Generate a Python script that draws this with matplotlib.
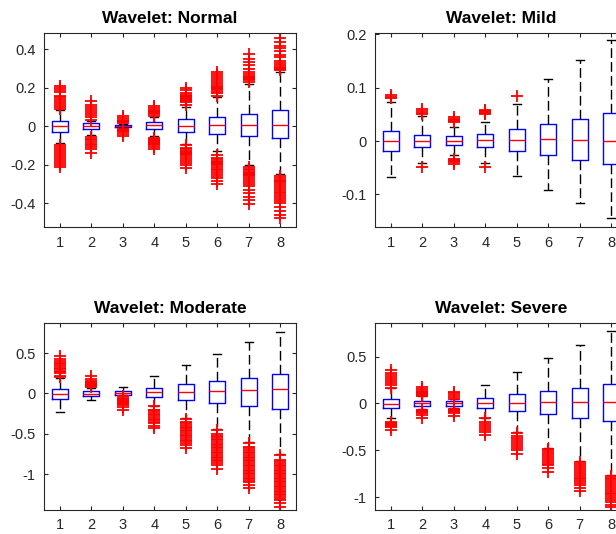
import matplotlib
matplotlib.use("Agg")
import matplotlib.pyplot as plt
from matplotlib.ticker import FuncFormatter

plt.rcParams['font.family'] = ['Liberation Sans', 'DejaVu Sans']
plt.rcParams['axes.unicode_minus'] = False

positions = [1, 2, 3, 4, 5, 6, 7, 8]

# ---- Wavelet: Normal ----
normal_med = [0.000, 0.000, 0.001, 0.004, 0.003, 0.005, 0.005, 0.007]
normal_q1 = [-0.030, -0.014, -0.005, -0.014, -0.028, -0.040, -0.050, -0.060]
normal_q3 = [0.028, 0.016, 0.007, 0.021, 0.038, 0.050, 0.066, 0.083]
normal_lo = [-0.085, -0.045, -0.008, -0.050, -0.090, -0.130, -0.200, -0.250]
normal_hi = [0.085, 0.030, 0.010, 0.049, 0.100, 0.150, 0.220, 0.285]
normal_fliers = [
    [0.09, 0.10, 0.11, 0.12, 0.13, 0.14, 0.15, 0.16, 0.18, 0.19, 0.20, 0.21,
     -0.10, -0.11, -0.12, -0.13, -0.14, -0.15, -0.16, -0.17, -0.18, -0.19, -0.20, -0.21],
    [0.035, 0.05, 0.06, 0.07, 0.08, 0.09, 0.10, 0.11, 0.13,
     -0.056, -0.065, -0.07, -0.08, -0.09, -0.10, -0.11, -0.12, -0.14],
    [0.015, 0.02, 0.025, 0.03, 0.035, 0.045, 0.055,
     -0.012, -0.018, -0.025, -0.03, -0.04, -0.05],
    [0.055, 0.065, 0.07, 0.075, 0.08, 0.085, 0.095, 0.105,
     -0.06, -0.065, -0.07, -0.075, -0.08, -0.085, -0.09, -0.10, -0.11, -0.12],
    [0.11, 0.125, 0.13, 0.135, 0.14, 0.145, 0.15, 0.155, 0.16, 0.165, 0.175, 0.19, 0.20,
     -0.10, -0.115, -0.12, -0.13, -0.135, -0.14, -0.145, -0.15, -0.16, -0.17, -0.18, -0.19, -0.20, -0.215],
    [0.16, 0.175, 0.18, 0.19, 0.195, 0.20, 0.205, 0.21, 0.22, 0.23, 0.24, 0.25, 0.26, 0.27, 0.285,
     -0.15, -0.165, -0.17, -0.18, -0.185, -0.19, -0.195, -0.20, -0.21, -0.22, -0.23, -0.24,
     -0.25, -0.26, -0.27, -0.285, -0.30],
    [0.23, 0.24, 0.245, 0.25, 0.255, 0.26, 0.27, 0.28, 0.30, 0.32, 0.335, 0.35, 0.375,
     -0.21, -0.225, -0.23, -0.24, -0.245, -0.25, -0.255, -0.26, -0.27, -0.28, -0.29, -0.30,
     -0.31, -0.33, -0.35, -0.37, -0.385, -0.405],
    [0.295, 0.30, 0.305, 0.31, 0.32, 0.33, 0.34, 0.36, 0.37, 0.39, 0.41, 0.42, 0.44, 0.46,
     -0.26, -0.27, -0.28, -0.285, -0.29, -0.30, -0.31, -0.32, -0.33, -0.34, -0.35, -0.36,
     -0.37, -0.38, -0.39, -0.40, -0.42, -0.44, -0.46, -0.48],
]

# ---- Wavelet: Mild ----
mild_med = [0.000, 0.001, 0.001, 0.0025, 0.0025, 0.004, 0.0025, 0.001]
mild_q1 = [-0.019, -0.011, -0.008, -0.011, -0.018, -0.026, -0.036, -0.043]
mild_q3 = [0.0195, 0.012, 0.010, 0.014, 0.022, 0.032, 0.042, 0.053]
mild_lo = [-0.067, -0.041, -0.026, -0.041, -0.066, -0.091, -0.116, -0.144]
mild_hi = [0.074, 0.047, 0.027, 0.036, 0.070, 0.117, 0.153, 0.189]
mild_fliers = [
    [0.080, 0.083, 0.086],
    [0.050, 0.053, 0.056, 0.060, -0.048],
    [0.035, 0.038, 0.040, 0.042, 0.045, -0.033, -0.036, -0.038, -0.040, -0.043],
    [0.050, 0.052, 0.054, 0.056, 0.058, -0.048],
    [0.084],
    [],
    [],
    [],
]

# ---- Wavelet: Moderate ----
moderate_med = [-0.010, -0.004, 0.004, 0.012, 0.020, 0.033, 0.041, 0.050]
moderate_q1 = [-0.074, -0.033, -0.020, -0.049, -0.086, -0.119, -0.156, -0.189]
moderate_q3 = [0.060, 0.025, 0.025, 0.062, 0.111, 0.152, 0.193, 0.239]
moderate_lo = [-0.23, -0.086, -0.025, -0.15, -0.30, -0.44, -0.60, -0.75]
moderate_hi = [0.19, 0.07, 0.08, 0.218, 0.354, 0.49, 0.63, 0.76]
moderate_fliers = [
    [0.20, 0.22, 0.25, 0.26, 0.28, 0.30, 0.32, 0.34, 0.36, 0.38, 0.40, 0.43, 0.46],
    [0.08, 0.09, 0.10, 0.11, 0.12, 0.13, 0.14, 0.15, 0.18, 0.21],
    [-0.035, -0.06, -0.07, -0.08, -0.09, -0.10, -0.11, -0.12, -0.13, -0.14, -0.17, -0.20],
    [-0.16, -0.20, -0.21, -0.23, -0.25, -0.27, -0.29, -0.31, -0.33, -0.35, -0.37, -0.40, -0.43],
    [-0.31, -0.35, -0.37, -0.39, -0.41, -0.43, -0.45, -0.47, -0.49, -0.51, -0.53, -0.55,
     -0.57, -0.59, -0.61, -0.64, -0.68],
    [-0.45, -0.50, -0.52, -0.54, -0.56, -0.58, -0.60, -0.62, -0.64, -0.66, -0.68, -0.70,
     -0.72, -0.74, -0.76, -0.78, -0.80, -0.82, -0.84, -0.86, -0.89, -0.93],
    [-0.61, -0.66, -0.68, -0.70, -0.72, -0.74, -0.76, -0.78, -0.80, -0.82, -0.84, -0.86,
     -0.88, -0.90, -0.92, -0.94, -0.96, -0.98, -1.00, -1.02, -1.04, -1.06, -1.08, -1.10,
     -1.13, -1.17],
    [-0.76, -0.82, -0.84, -0.86, -0.88, -0.90, -0.92, -0.94, -0.96, -0.98, -1.00, -1.02,
     -1.04, -1.06, -1.08, -1.10, -1.12, -1.14, -1.16, -1.18, -1.20, -1.22, -1.24, -1.26,
     -1.28, -1.30, -1.32, -1.35, -1.40],
]

# ---- Wavelet: Severe ----
severe_med = [-0.004, 0.000, 0.000, 0.007, 0.010, 0.014, 0.018, 0.021]
severe_q1 = [-0.053, -0.028, -0.025, -0.053, -0.082, -0.113, -0.152, -0.184]
severe_q3 = [0.053, 0.028, 0.025, 0.060, 0.100, 0.135, 0.170, 0.206]
severe_lo = [-0.15, -0.06, -0.05, -0.15, -0.30, -0.47, -0.61, -0.76]
severe_hi = [0.16, 0.078, 0.045, 0.20, 0.34, 0.486, 0.628, 0.77]
severe_fliers = [
    [0.17, 0.20, 0.22, 0.24, 0.26, 0.28, 0.30, 0.32, 0.36,
     -0.20, -0.21, -0.22, -0.23, -0.24, -0.25, -0.28],
    [0.085, 0.095, 0.10, 0.11, 0.12, 0.13, 0.15, 0.18,
     -0.065, -0.07, -0.08, -0.09, -0.10, -0.12, -0.15],
    [0.05, 0.07, 0.09, 0.11, 0.12, -0.06, -0.07, -0.08, -0.09, -0.10, -0.13],
    [-0.16, -0.20, -0.22, -0.24, -0.26, -0.28, -0.30, -0.34],
    [-0.31, -0.35, -0.37, -0.39, -0.41, -0.43, -0.45, -0.47, -0.50, -0.54],
    [-0.48, -0.50, -0.52, -0.54, -0.56, -0.58, -0.60, -0.62, -0.64, -0.66, -0.69, -0.73],
    [-0.62, -0.65, -0.67, -0.69, -0.71, -0.73, -0.75, -0.77, -0.79, -0.81, -0.83, -0.85,
     -0.87, -0.90, -0.93],
    [-0.77, -0.79, -0.81, -0.83, -0.85, -0.87, -0.89, -0.91, -0.93, -0.95, -0.97, -0.99,
     -1.01, -1.03, -1.05, -1.08, -1.10],
]

titles = ["Wavelet: Normal", "Wavelet: Mild", "Wavelet: Moderate", "Wavelet: Severe"]
ylims = [(-0.527, 0.485), (-0.162, 0.2025), (-1.44, 0.87), (-1.135, 0.857)]
yticks = [[-0.4, -0.2, 0, 0.2, 0.4], [-0.1, 0, 0.1, 0.2], [-1, -0.5, 0, 0.5], [-1, -0.5, 0, 0.5]]

panels = [
    (normal_med, normal_q1, normal_q3, normal_lo, normal_hi, normal_fliers),
    (mild_med, mild_q1, mild_q3, mild_lo, mild_hi, mild_fliers),
    (moderate_med, moderate_q1, moderate_q3, moderate_lo, moderate_hi, moderate_fliers),
    (severe_med, severe_q1, severe_q3, severe_lo, severe_hi, severe_fliers),
]

# axes rectangles in figure fractions (right column runs past the figure edge)
rects = [
    [0.0714, 0.574, 0.409, 0.364],
    [0.6088, 0.574, 0.409, 0.364],
    [0.0714, 0.045, 0.409, 0.350],
    [0.6088, 0.045, 0.409, 0.350],
]

axcol = '#262626'
fig = plt.figure(figsize=(6.16, 5.34), dpi=100)

for i in range(4):
    med, q1, q3, lo, hi, fl = panels[i]
    ax = fig.add_axes(rects[i])
    stats = []
    for j in range(8):
        stats.append(dict(med=med[j], q1=q1[j], q3=q3[j], whislo=lo[j], whishi=hi[j], fliers=fl[j]))
    ax.bxp(stats, positions=positions, widths=0.5, capwidths=0.25, manage_ticks=False,
           boxprops=dict(color='blue', lw=1.0),
           medianprops=dict(color='red', lw=1.0),
           whiskerprops=dict(color='black', lw=1.0, ls=(0, (7, 3))),
           capprops=dict(color='black', lw=1.0),
           flierprops=dict(marker='+', markeredgecolor='red', markersize=8, mew=1.3, ls='none'))
    ax.set_xlim(0.5, 8.5)
    ax.set_ylim(*ylims[i])
    ax.set_xticks(positions)
    ax.set_xticklabels([str(p) for p in positions])
    ax.set_yticks(yticks[i])
    ax.yaxis.set_major_formatter(FuncFormatter(lambda v, p: '%g' % round(v, 3)))
    ax.tick_params(direction='in', top=True, right=True, length=3, width=0.8,
                   colors=axcol, labelsize=10.5, pad=6)
    for s in ax.spines.values():
        s.set_color(axcol)
        s.set_linewidth(0.8)
    ax.set_title(titles[i], fontsize=12.5, fontweight='bold', pad=7)

fig.savefig("out.png", dpi=100)
